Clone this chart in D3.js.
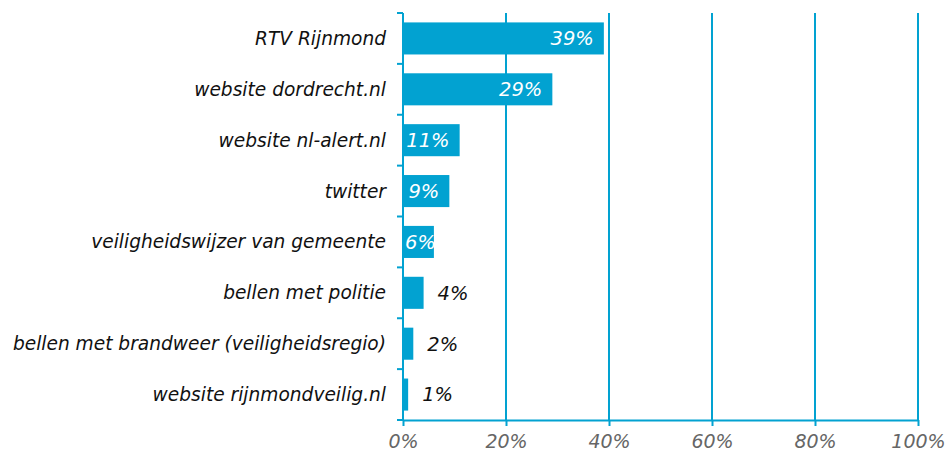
<!DOCTYPE html>
<html lang="en">
<head>
<meta charset="utf-8">
<title>Bronnen</title>
<script src="https://d3js.org/d3.v7.min.js"></script>
<style>
  body { margin: 0; background: #fff; }
  svg text { font-family: "DejaVu Sans", Verdana, sans-serif; font-style: italic; }
</style>
</head>
<body>
<script>
// data
const categories = [
  "RTV Rijnmond",
  "website dordrecht.nl",
  "website nl-alert.nl",
  "twitter",
  "veiligheidswijzer van gemeente",
  "bellen met politie",
  "bellen met brandweer (veiligheidsregio)",
  "website rijnmondveilig.nl"
];
const values = [39, 29, 11, 9, 6, 4, 2, 1];
const tickValues = [0, 20, 40, 60, 80, 100];

const w = 950, h = 454;
const margin = {top: 13, right: 32, bottom: 34, left: 403};
const blue = "#02a2d1";

const svg = d3.select("body").append("svg")
  .attr("width", w)
  .attr("height", h);

const x = d3.scaleLinear().domain([0, 100]).range([margin.left, w - margin.right]);
const y = d3.scaleBand().domain(categories).range([margin.top, h - margin.bottom]).paddingInner(0.37).paddingOuter(0.185);

// gridlines
svg.append("g")
  .selectAll("line")
  .data(tickValues.slice(1))
  .enter().append("line")
  .attr("x1", d => x(d)).attr("x2", d => x(d))
  .attr("y1", margin.top).attr("y2", h - margin.bottom)
  .attr("stroke", blue).attr("stroke-width", 2);

// bars
svg.append("g")
  .selectAll("rect")
  .data(values)
  .enter().append("rect")
  .attr("x", x(0))
  .attr("y", (d, i) => y(categories[i]))
  .attr("width", d => x(d) - x(0))
  .attr("height", y.bandwidth())
  .attr("fill", blue);

// x axis
const xAxis = svg.append("g")
  .attr("transform", "translate(0," + (h - margin.bottom) + ")")
  .call(d3.axisBottom(x).tickValues(tickValues).tickFormat(d => d + "%").tickSize(6).tickSizeOuter(0));
xAxis.select(".domain").attr("stroke", blue).attr("stroke-width", 2);
xAxis.selectAll(".tick line").attr("stroke", blue).attr("stroke-width", 2);
xAxis.selectAll(".tick text").attr("fill", "#666").attr("font-size", 19).attr("dy", "0.98em");

// y axis with ticks on category boundaries
const step = y.step();
const boundaries = d3.range(categories.length + 1).map(i => margin.top + i * step);
svg.append("line")
  .attr("x1", x(0)).attr("x2", x(0))
  .attr("y1", margin.top).attr("y2", h - margin.bottom)
  .attr("stroke", blue).attr("stroke-width", 2);
svg.append("g")
  .selectAll("line")
  .data(boundaries)
  .enter().append("line")
  .attr("x1", x(0) - 6).attr("x2", x(0))
  .attr("y1", d => d).attr("y2", d => d)
  .attr("stroke", blue).attr("stroke-width", 2);

// category labels
svg.append("g")
  .selectAll("text")
  .data(categories)
  .enter().append("text")
  .attr("x", 386)
  .attr("y", d => y(d) + y.bandwidth() / 2)
  .attr("dy", "0.35em")
  .attr("text-anchor", "end")
  .attr("font-size", 18.6)
  .attr("fill", "#111")
  .text(d => d);

// value labels
svg.append("g")
  .selectAll("text")
  .data(values)
  .enter().append("text")
  .attr("x", d => d >= 6 ? Math.max(x(d) - 10, x(0) + 33) : x(d) + 14)
  .attr("y", (d, i) => y(categories[i]) + y.bandwidth() / 2)
  .attr("dy", "0.35em")
  .attr("text-anchor", d => d >= 6 ? "end" : "start")
  .attr("font-size", 19.5)
  .attr("fill", d => d >= 6 ? "#fff" : "#111")
  .text(d => d + "%");
</script>
</body>
</html>
